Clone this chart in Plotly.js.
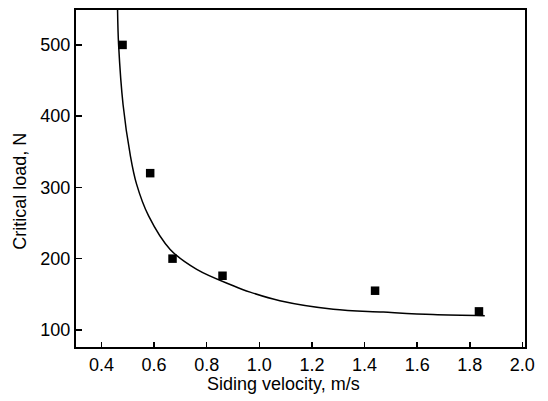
<!DOCTYPE html>
<html>
<head>
<meta charset="utf-8">
<script src="https://cdn.plot.ly/plotly-3.0.1.min.js"></script>
<style>html,body{margin:0;padding:0;background:#fff}#chart{width:548px;height:401px}</style>
</head>
<body>
<div id="chart"></div>
<script>
// Measured data points
var velocity = [0.48, 0.585, 0.67, 0.86, 1.44, 1.835];
var criticalLoad = [500, 320, 200, 176, 155, 126];

// Fitted curve, points
var curveX = [0.461, 0.465, 0.482, 0.509, 0.533, 0.579, 0.661, 0.762, 0.901, 0.965, 1.078, 1.281, 1.471, 1.660, 1.857];
var curveY = [549, 500, 416, 346, 305, 260, 213, 185, 162, 153, 141, 129, 125, 121.5, 120];

var xTicks = [0.4, 0.6, 0.8, 1.0, 1.2, 1.4, 1.6, 1.8, 2.0];
var xTickText = ["0.4", "0.6", "0.8", "1.0", "1.2", "1.4", "1.6", "1.8", "2.0"];
var yTicks = [100, 200, 300, 400, 500];

var xTitle = "Siding velocity, m/s";
var yTitle = "Critical load, N";

var font = {family: "Liberation Sans, Arial, sans-serif", size: 18, color: "#000"};

var traces = [
  {x: curveX, y: curveY, mode: "lines", line: {color: "#000", width: 1.5, shape: "spline", smoothing: 1}, hoverinfo: "skip", showlegend: false},
  {x: velocity, y: criticalLoad, mode: "markers", marker: {symbol: "square", size: 8.5, color: "#000"}, showlegend: false}
];

var layout = {
  width: 548, height: 401,
  margin: {l: 76, r: 23, t: 10, b: 54},
  paper_bgcolor: "#fff", plot_bgcolor: "#fff",
  font: font,
  xaxis: {
    range: [0.303, 2.01], tickvals: xTicks, ticktext: xTickText,
    ticks: "inside", ticklen: 5, tickwidth: 1.5, tickcolor: "#000",
    showline: true, linecolor: "#000", linewidth: 2, mirror: true,
    showgrid: false, zeroline: false,
    tickfont: font
  },
  yaxis: {
    range: [76, 549], tickvals: yTicks,
    ticks: "inside", ticklen: 6, tickwidth: 1.5, tickcolor: "#000",
    showline: true, linecolor: "#000", linewidth: 2, mirror: true,
    showgrid: false, zeroline: false,
    tickfont: font
  },
  annotations: [
    {text: xTitle, xref: "paper", yref: "paper", x: 0.463, y: -0.11, xanchor: "center", yanchor: "middle", showarrow: false, font: font},
    {text: yTitle, xref: "paper", yref: "paper", x: -0.125, y: 0.463, xanchor: "center", yanchor: "middle", textangle: -90, showarrow: false, font: font}
  ]
};

Plotly.newPlot("chart", traces, layout, {staticPlot: true, displayModeBar: false});
</script>
</body>
</html>
